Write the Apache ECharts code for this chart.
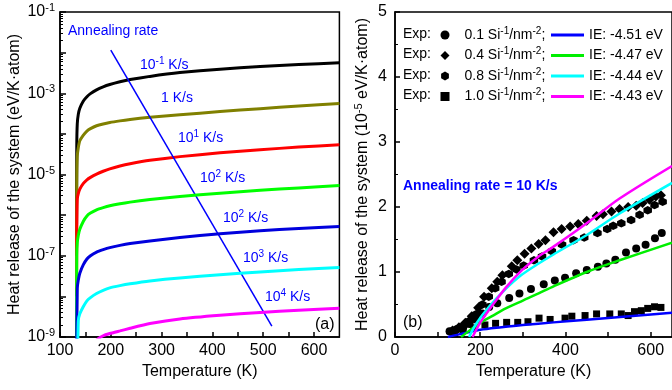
<!DOCTYPE html>
<html><head><meta charset="utf-8">
<script src="https://cdn.jsdelivr.net/npm/echarts@6/dist/echarts.min.js"></script>
<style>html,body{margin:0;padding:0;background:#fff}#c{width:672px;height:390px}</style>
</head><body><div id="c"></div>
<script>
// ---------- Panel (a): heat release vs temperature for several annealing rates ----------
// Temperatures (K) at which the curves were read
const tempA = [132.5, 133, 134, 136, 139, 146, 153, 160, 172, 185, 198, 218, 238, 277, 336, 415, 494, 570, 650];
// log10 of heat release (eV/K·atom)
const logHeatRateM1 = [-6.5, -4.3, -3.75, -3.52, -3.368, -3.189, -3.085, -3.009, -2.916, -2.843, -2.786, -2.718, -2.663, -2.585, -2.492, -2.407, -2.343, -2.294, -2.25];
const logHeatRate0  = [-7.0, -5.2, -4.55, -4.34, -4.17, -4.03, -3.93, -3.87, -3.80, -3.755, -3.72, -3.68, -3.645, -3.59, -3.53, -3.45, -3.38, -3.315, -3.25];
const logHeatRate1  = [-8.0, -6.4, -5.6, -5.47, -5.36, -5.22, -5.13, -5.07, -4.99, -4.92, -4.86, -4.79, -4.735, -4.65, -4.56, -4.465, -4.39, -4.325, -4.27];
const logHeatRate2  = [-9.0, -7.0, -6.68, -6.5, -6.35, -6.15, -6.02, -5.95, -5.87, -5.815, -5.77, -5.72, -5.68, -5.615, -5.54, -5.46, -5.39, -5.33, -5.27];
const logHeatRate2b = [-10.5, -9.0, -7.8, -7.6, -7.43, -7.22, -7.08, -7.0, -6.91, -6.85, -6.80, -6.745, -6.70, -6.635, -6.55, -6.46, -6.385, -6.33, -6.28];
const logHeatRate3  = [-12, -11, -10, -8.6, -8.43, -8.25, -8.11, -8.03, -7.93, -7.85, -7.79, -7.735, -7.69, -7.62, -7.545, -7.465, -7.40, -7.34, -7.29];
const logHeatRate4  = [-14, -13.5, -13, -12.5, -12, -10.6, -10.0, -9.55, -9.08, -8.97, -8.915, -8.85, -8.785, -8.67, -8.555, -8.465, -8.395, -8.34, -8.29];
// curve labels (base, exponent) as printed
const rateLabelBase = ['10', '1', '10', '10', '10', '10', '10'];
const rateLabelExp  = ['-1', '', '1', '2', '2', '3', '4'];
// annealing-rate arrow: [T, log10 heat]
const arrowStart = [200, -1.94];
const arrowEnd   = [517, -8.73];
// log-axis range (exponents)
const yExpA = [-9, -1];
const xRangeA = [100, 650];

// ---------- Panel (b): experiment vs IE fits, 10 K/s ----------
const expLabels = ['0.1', '0.4', '0.8', '1.0'];
const ieLabels = ['-4.51', '-4.47', '-4.44', '-4.43'];
// Experimental points (T in K, heat release in 1e-5 eV/K·atom)
const tempExp01 = [128, 145, 160, 175, 190, 205, 221, 240, 268, 292, 319, 349, 375, 399, 425, 450, 476, 496, 517, 542, 566, 588, 610, 626];
const heatExp01 = [0.09, 0.12, 0.15, 0.2, 0.27, 0.36, 0.46, 0.52, 0.6, 0.67, 0.74, 0.81, 0.87, 0.91, 0.98, 1.03, 1.08, 1.13, 1.19, 1.3, 1.36, 1.42, 1.52, 1.6];
const tempExp04 = [135, 150, 165, 180, 195, 209, 227, 240, 252, 274, 287, 304, 320, 337, 353, 372, 391, 411, 430, 450, 473, 488, 508, 527, 547, 566, 581, 597, 612, 624];
const heatExp04 = [0.1, 0.15, 0.22, 0.32, 0.45, 0.62, 0.75, 0.85, 0.95, 1.09, 1.18, 1.28, 1.36, 1.43, 1.49, 1.61, 1.66, 1.70, 1.74, 1.79, 1.86, 1.89, 1.93, 1.97, 2.0, 2.02, 2.06, 2.11, 2.16, 2.18];
const tempExp08 = [130, 145, 160, 175, 190, 205, 220, 235, 250, 267, 285, 302, 326, 345, 368, 392, 419, 444, 475, 498, 512, 531, 554, 574, 593, 609, 628];
const heatExp08 = [0.08, 0.12, 0.17, 0.25, 0.35, 0.5, 0.62, 0.75, 0.85, 0.97, 1.04, 1.1, 1.18, 1.24, 1.32, 1.42, 1.49, 1.53, 1.6, 1.66, 1.71, 1.75, 1.8, 1.88, 1.95, 2.03, 2.08];
const tempExp10 = [140, 160, 185, 211, 236, 262, 288, 312, 338, 364, 399, 415, 446, 473, 504, 531, 547, 562, 578, 593, 609, 624];
const heatExp10 = [0.05, 0.1, 0.14, 0.185, 0.21, 0.225, 0.225, 0.235, 0.29, 0.27, 0.29, 0.32, 0.33, 0.355, 0.355, 0.355, 0.33, 0.39, 0.405, 0.44, 0.465, 0.455];
// IE model curves
const tempIE451 = [124, 150, 200, 250, 300, 372, 450, 550, 650];
const heatIE451 = [0, 0.04, 0.11, 0.15, 0.185, 0.225, 0.265, 0.32, 0.375];
const tempIE447 = [155, 175, 198, 230, 260, 300, 337, 372, 450, 527, 650];
const heatIE447 = [0, 0.1, 0.21, 0.33, 0.44, 0.56, 0.67, 0.78, 1.0, 1.18, 1.45];
const tempIE444 = [174, 190, 221, 260, 298, 337, 372, 450, 527, 650];
const heatIE444 = [0, 0.2, 0.47, 0.74, 0.96, 1.13, 1.27, 1.57, 1.9, 2.37];
const tempIE443 = [182, 200, 221, 260, 298, 337, 372, 450, 527, 650];
const heatIE443 = [0, 0.22, 0.42, 0.76, 1.03, 1.24, 1.39, 1.75, 2.13, 2.63];
const xRangeB = [0, 650];
const yRangeB = [0, 5];

// ---------- build ----------
const FONT = '"Liberation Sans", Arial, Helvetica, sans-serif';
const BLUE = '#0000ff';
const pair = (xs, ys) => xs.map((x, i) => [x, ys[i]]);
const pairPow = (xs, ys) => xs.map((x, i) => [x, Math.pow(10, ys[i])]);

const curvesA = [logHeatRateM1, logHeatRate0, logHeatRate1, logHeatRate2, logHeatRate2b, logHeatRate3, logHeatRate4];
const colorsA = ['#000000', '#808000', '#ff0000', '#00ff00', '#0000dd', '#00ffff', '#ff00ff'];

const chart = echarts.init(document.getElementById('c'), null, {renderer: 'canvas'});

const tickStyle = {inside: true, length: 5, lineStyle: {color: '#000', width: 1.5}};
const minorStyle = {show: true, length: 3, lineStyle: {color: '#000', width: 1}};
const lineAxis = {show: true, lineStyle: {color: '#000', width: 1.5}};
const lblStyle = {color: '#000', fontSize: 16, fontFamily: FONT};
const nameStyle = {color: '#000', fontSize: 16, fontFamily: FONT};
const supRich = {
  n: {fontSize: 16, fontFamily: FONT, color: '#000', lineHeight: 19},
  s: {fontSize: 11, fontFamily: FONT, color: '#000', lineHeight: 11, padding: [0, 0, 8, 0]}
};

const series = [];
curvesA.forEach((arr, k) => {
  series.push({
    name: 'a' + k, type: 'line', xAxisIndex: 0, yAxisIndex: 0,
    data: pairPow(tempA, arr), showSymbol: false, symbol: 'none', smooth: 0.15,
    lineStyle: {color: colorsA[k], width: 3}, itemStyle: {color: colorsA[k]}, z: 2 + k,
    silent: true
  });
});
// arrow
series.push({
  name: 'arrow', type: 'line', xAxisIndex: 0, yAxisIndex: 0, data: [], silent: true,
  markLine: {
    silent: true, symbol: ['none', 'arrow'], symbolSize: [0, 12], animation: false,
    label: {show: false}, lineStyle: {color: BLUE, width: 1.5, type: 'solid'},
    data: [[{coord: [arrowStart[0], Math.pow(10, arrowStart[1])]}, {coord: [arrowEnd[0], Math.pow(10, arrowEnd[1])]}]]
  }, z: 20
});

const hexPath = 'path://M0,-10 L8.66,-5 L8.66,5 L0,10 L-8.66,5 L-8.66,-5 Z';
const expNames = expLabels.map(s => s + ' Si-1/nm-2;');
const ieNames = ieLabels.map(s => 'IE: ' + s + ' eV');
const expData = [[tempExp01, heatExp01, 'circle', 8], [tempExp04, heatExp04, 'diamond', 10], [tempExp08, heatExp08, hexPath, 8.5], [tempExp10, heatExp10, 'rect', 7]];
expData.forEach((d, k) => {
  series.push({
    name: expNames[k], type: 'scatter', xAxisIndex: 1, yAxisIndex: 1,
    data: pair(d[0], d[1]), symbol: d[2], symbolSize: d[3],
    itemStyle: {color: '#000', opacity: 1}, z: 2, silent: true
  });
});
const ieColors = ['#0000ff', '#00ee00', '#00ffff', '#ff00ff'];
const ieData = [[tempIE451, heatIE451], [tempIE447, heatIE447], [tempIE444, heatIE444], [tempIE443, heatIE443]];
ieData.forEach((d, k) => {
  series.push({
    name: ieNames[k], type: 'line', xAxisIndex: 1, yAxisIndex: 1,
    data: pair(d[0], d[1]), symbol: 'none', showSymbol: false, smooth: 0.3,
    lineStyle: {color: ieColors[k], width: 2.5}, itemStyle: {color: ieColors[k]}, z: 5, silent: true
  });
});

const rateText = (i) => rateLabelExp[i] ? '{n|' + rateLabelBase[i] + '}{s|' + rateLabelExp[i] + '}{n| K/s}' : '{n|' + rateLabelBase[i] + ' K/s}';
const rateRich = {
  n: {fontSize: 14, fontFamily: FONT, fill: BLUE, lineHeight: 18},
  s: {fontSize: 10, fontFamily: FONT, fill: BLUE, lineHeight: 10, padding: [0, 0, 8, 0]}
};
const ratePos = [[140, 65], [161, 100], [178, 138], [200, 178], [223, 218], [243, 258], [265, 297]];
const graphics = ratePos.map((p, i) => ({
  type: 'text', left: p[0], top: p[1] - 9, z: 50, silent: true,
  style: {text: rateText(i), rich: rateRich, fill: BLUE, fontSize: 14, fontFamily: FONT}
}));
graphics.push({type: 'text', left: 68, top: 24, z: 50, silent: true,
  style: {text: 'Annealing rate', fill: BLUE, fontSize: 14, fontFamily: FONT}});
graphics.push({type: 'text', left: 315, top: 317, z: 50, silent: true,
  style: {text: '(a)', fill: '#000', fontSize: 16, fontFamily: FONT}});
graphics.push({type: 'text', left: 403, top: 315, z: 50, silent: true,
  style: {text: '(b)', fill: '#000', fontSize: 16, fontFamily: FONT}});
graphics.push({type: 'text', left: 403, top: 179, z: 50, silent: true,
  style: {text: 'Annealing rate = 10 K/s', fill: BLUE, fontSize: 14, fontWeight: 'bold', fontFamily: FONT}});
[35, 55.5, 76, 96.5].forEach(cy => graphics.push({type: 'text', left: 403, top: cy - 8, z: 50, silent: true,
  style: {text: 'Exp:', fill: '#000', fontSize: 14, fontFamily: FONT}}));

const legRich = {
  n: {fontSize: 14, fontFamily: FONT, color: '#000', lineHeight: 18},
  s: {fontSize: 10, fontFamily: FONT, color: '#000', lineHeight: 10, padding: [0, 0, 8, 0]}
};

const option = {
  animation: false,
  backgroundColor: '#fff',
  textStyle: {fontFamily: FONT},
  grid: [
    {left: 60, right: 332.6, top: 12, bottom: 53, show: true, borderColor: '#000', borderWidth: 1.5, backgroundColor: 'transparent'},
    {left: 395, right: -2.5, top: 12, bottom: 53, show: true, borderColor: '#000', borderWidth: 1.5, backgroundColor: 'transparent'}
  ],
  xAxis: [
    {type: 'value', gridIndex: 0, min: xRangeA[0], max: xRangeA[1], interval: 50,
     name: 'Temperature (K)', nameLocation: 'middle', nameGap: 27, nameTextStyle: nameStyle,
     axisLine: lineAxis, axisTick: tickStyle, splitLine: {show: false},
     axisLabel: Object.assign({margin: 6, showMaxLabel: false, formatter: v => (v % 100 === 0 ? String(v) : '')}, lblStyle)},
    {type: 'value', gridIndex: 1, min: xRangeB[0], max: xRangeB[1], interval: 100,
     name: 'Temperature (K)', nameLocation: 'middle', nameGap: 27, nameTextStyle: nameStyle,
     axisLine: lineAxis, axisTick: tickStyle, splitLine: {show: false},
     axisLabel: Object.assign({margin: 6, showMaxLabel: false, formatter: v => (v % 200 === 0 ? String(v) : '')}, lblStyle)}
  ],
  yAxis: [
    {type: 'log', gridIndex: 0, logBase: 10, min: Math.pow(10, yExpA[0]), max: Math.pow(10, yExpA[1]), interval: 1,
     name: 'Heat release of the system (eV/K·atom)', nameLocation: 'middle', nameGap: 37, nameRotate: 90, nameTextStyle: nameStyle,
     axisLine: lineAxis, axisTick: Object.assign({}, tickStyle, {length: 6}),
     minorTick: Object.assign({}, minorStyle, {splitNumber: 9}), splitLine: {show: false}, minorSplitLine: {show: false},
     axisLabel: {margin: 5, rich: supRich, formatter: v => {
       const e = Math.round(Math.log10(v));
       return (e % 2 !== 0) ? '{n|10}{s|' + e + '}' : '';
     }}},
    {type: 'value', gridIndex: 1, min: yRangeB[0], max: yRangeB[1], interval: 1,
     name: '{n|Heat release of the system (10}{s|-5}{n| eV/K·atom)}', nameLocation: 'middle', nameGap: 23, nameRotate: 90,
     nameTextStyle: Object.assign({}, nameStyle, {rich: supRich}),
     axisLine: lineAxis, axisTick: tickStyle, minorTick: Object.assign({}, minorStyle, {splitNumber: 2}), splitLine: {show: false},
     axisLabel: Object.assign({margin: 8}, lblStyle)}
  ],
  legend: [
    {data: expNames, orient: 'vertical', left: 440.5, top: 26, itemWidth: 9, itemHeight: 9, itemGap: 2.5,
     selectedMode: false, padding: 0,
     formatter: name => { const s = name.split(' ')[0]; return '{n|' + s + ' Si}{s|-1}{n|/nm}{s|-2}{n|;}'; },
     textStyle: {color: '#000', fontSize: 14, fontFamily: FONT, lineHeight: 18, padding: [0, 0, 0, 10], rich: legRich}},
    {data: ieNames.map(n => ({name: n, icon: 'rect'})), orient: 'vertical', left: 551, top: 26, itemWidth: 33, itemHeight: 3, itemGap: 2.5,
     selectedMode: false, padding: 0,
     textStyle: {color: '#000', fontSize: 14, fontFamily: FONT, lineHeight: 18}}
  ],
  graphic: graphics,
  series: series
};
chart.setOption(option);
</script>
</body></html>
